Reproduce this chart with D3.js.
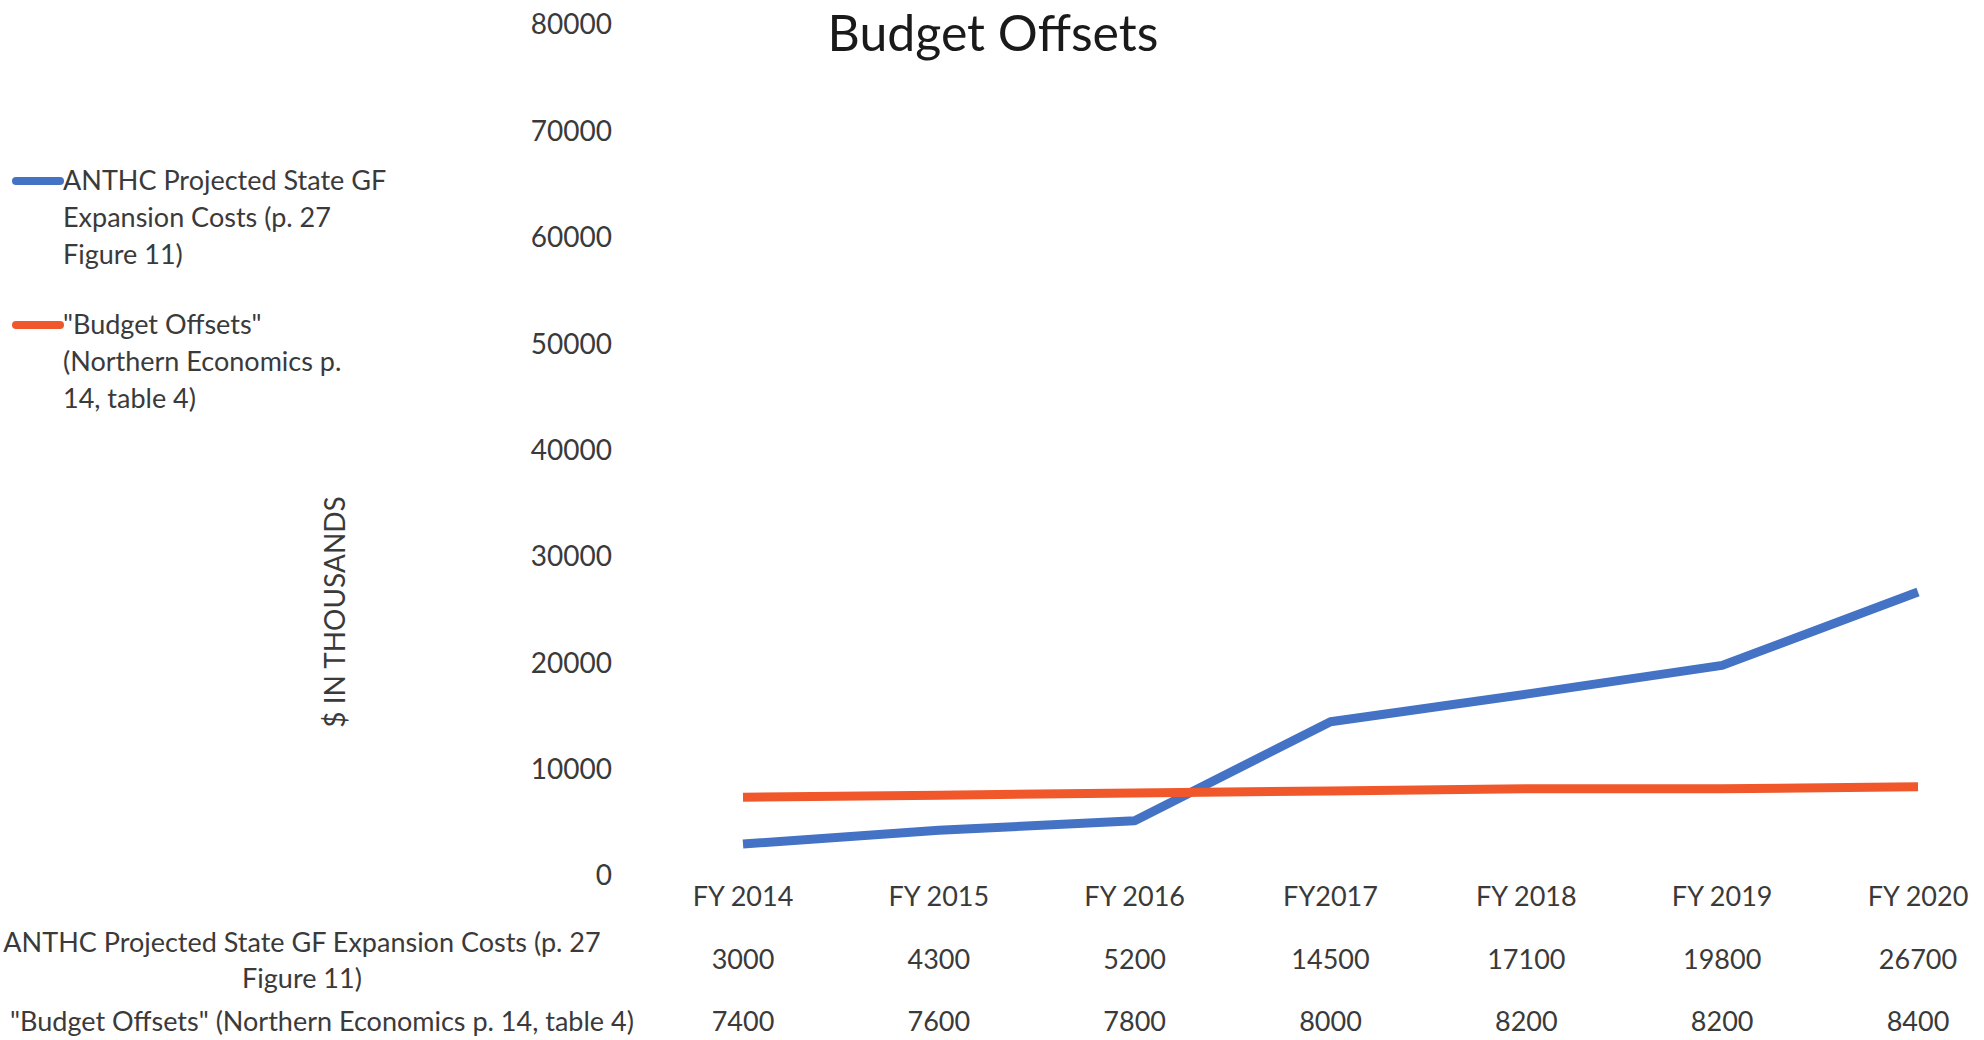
<!DOCTYPE html>
<html><head><meta charset="utf-8">
<script src="https://cdn.jsdelivr.net/npm/d3@7"></script>
<style>
html,body{margin:0;padding:0;background:#fff;}
svg{display:block;font-family:Lato, "Open Sans", sans-serif;}
</style></head>
<body>
<script>
const categories = ["FY 2014","FY 2015","FY 2016","FY2017","FY 2018","FY 2019","FY 2020"];
const anthcCosts = [3000,4300,5200,14500,17100,19800,26700];
const budgetOffsets = [7400,7600,7800,8000,8200,8200,8400];
const seriesNames = ["ANTHC Projected State GF Expansion Costs (p. 27 Figure 11)", "\"Budget Offsets\" (Northern Economics p. 14, table 4)"];
const yTicks = [0,10000,20000,30000,40000,50000,60000,70000,80000];
const chartTitle = "Budget Offsets";
const yTitle = "$ IN THOUSANDS";

const W = 1984, H = 1040;
const colors = ["#4472C4", "#F0582B"];
const textColor = "#3a3a3a";
const fs = 27;

const svg = d3.select("body").append("svg").attr("width", W).attr("height", H);

const x = d3.scalePoint().domain(categories).range([743, 1918]);
const y = d3.scaleLinear().domain([0, 80000]).range([876, 25]);

// title
svg.append("text").attr("x", 993).attr("y", 51).attr("text-anchor","middle")
  .attr("font-size", 50).attr("fill", "#1a1a1a").text(chartTitle);

// y axis
const yAxis = svg.append("g").attr("transform","translate(620,0)")
  .call(d3.axisLeft(y).tickValues(yTicks).tickSize(0).tickPadding(8).tickFormat(d3.format("d")));
yAxis.select(".domain").remove();
yAxis.selectAll("text").attr("font-size", 28).attr("fill", textColor).attr("font-family","Lato, 'Open Sans', sans-serif");

// y title
svg.append("text").attr("transform","translate(345,612) rotate(-90)")
  .attr("text-anchor","middle").attr("font-size", 28).attr("fill", textColor).text(yTitle);

// lines
const series = [anthcCosts, budgetOffsets];
const line = d3.line().x((d,i)=>x(categories[i])).y(d=>y(d));
series.forEach((s,k)=>{
  svg.append("path").datum(s).attr("d", line).attr("fill","none")
    .attr("stroke", colors[k]).attr("stroke-width", 9).attr("stroke-linejoin","round");
});

// x category labels
svg.append("g").selectAll("text").data(categories).join("text")
  .attr("x", d=>x(d)).attr("y", 897).attr("dy","0.35em").attr("text-anchor","middle")
  .attr("font-size", fs).attr("fill", textColor).text(d=>d);

// data table
const rowY = [960, 1022];
series.forEach((s,k)=>{
  svg.append("g").selectAll("text").data(s).join("text")
    .attr("x", (d,i)=>x(categories[i])).attr("y", rowY[k]).attr("dy","0.35em")
    .attr("text-anchor","middle").attr("font-size", fs).attr("fill", textColor).text(d=>d);
});
// row labels
const r1 = svg.append("text").attr("text-anchor","middle").attr("font-size", fs).attr("fill", textColor);
r1.append("tspan").attr("x", 302).attr("y", 943).attr("dy","0.35em").text("ANTHC Projected State GF Expansion Costs (p. 27");
r1.append("tspan").attr("x", 302).attr("y", 979).attr("dy","0.35em").text("Figure 11)");
svg.append("text").attr("text-anchor","middle").attr("x", 322).attr("y", rowY[1]).attr("dy","0.35em")
  .attr("font-size", fs).attr("fill", textColor).text(seriesNames[1]);

// legend
const legendLines = [
  ["ANTHC Projected State GF","Expansion Costs (p. 27","Figure 11)"],
  ["\"Budget Offsets\"","(Northern Economics p.","14, table 4)"]
];
const legendY = [181, 325];
legendLines.forEach((lines,k)=>{
  const g = svg.append("g");
  g.append("line").attr("x1",16).attr("x2",60).attr("y1",legendY[k]).attr("y2",legendY[k])
    .attr("stroke", colors[k]).attr("stroke-width", 8).attr("stroke-linecap","round");
  const t = g.append("text").attr("font-size", fs).attr("fill", textColor);
  lines.forEach((l,j)=>{
    t.append("tspan").attr("x", 63).attr("y", legendY[k] + j*36.7).attr("dy","0.35em").text(l);
  });
});
</script>
</body></html>
